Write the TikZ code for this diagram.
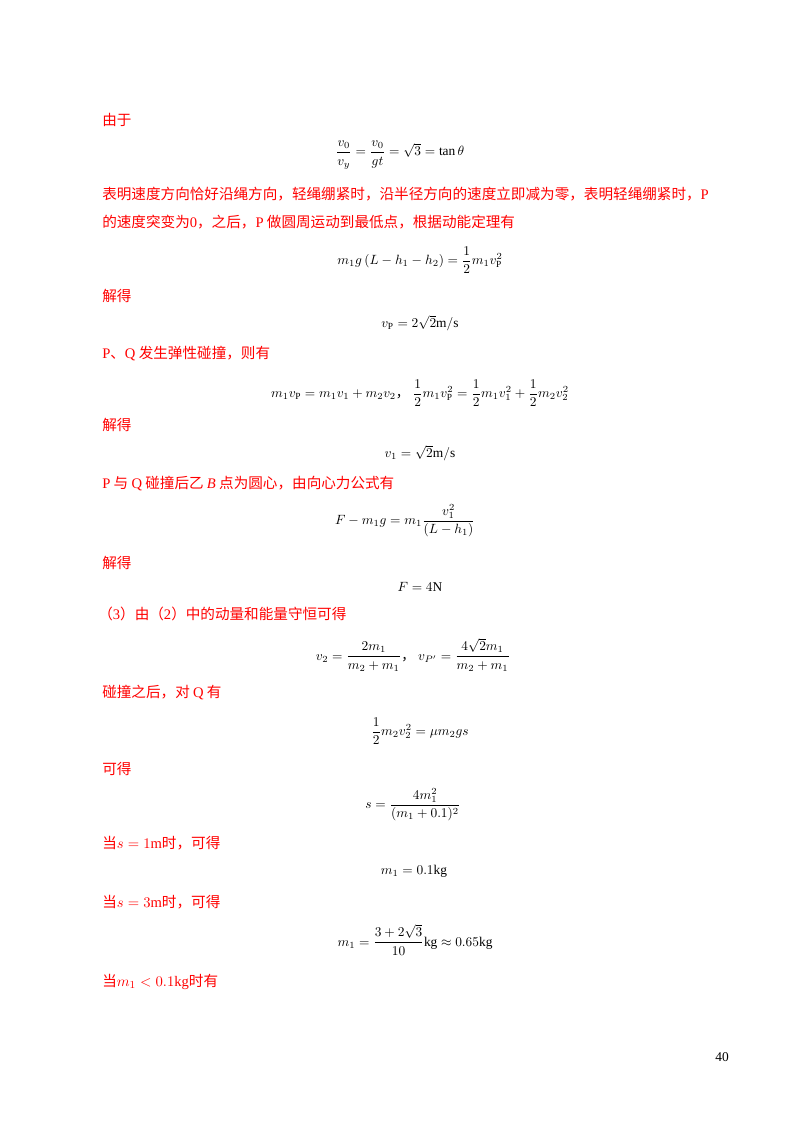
\documentclass[tikz,border=0pt]{standalone}
\usepackage{amsmath}
\usepackage{fontspec}
\setmainfont{Liberation Serif}
\newfontfamily\cjk{Noto Sans CJK SC}
\newcommand{\rl}[1]{{\rmfamily #1}}
\begin{document}
\begin{tikzpicture}[x=0.02625cm,y=-0.02625cm,
  txt/.style={anchor=west,inner sep=0pt,text=red,font=\cjk\fontsize{10.9pt}{13pt}\selectfont},
  eq/.style={inner sep=0pt,font=\fontsize{10pt}{12pt}\selectfont}]
\useasboundingbox (0,0) rectangle (800,1132);
\node[txt] (t1) at (102,120) {由于};
\node[eq] (e1) at (400,155) {$\dfrac{v_0}{v_y}=\dfrac{v_0}{gt}=\sqrt{3}=\tan\theta$};
\node[txt] (t2) at (102,194) {表明速度方向恰好沿绳方向，轻绳绷紧时，沿半径方向的速度立即减为零，表明轻绳绷紧时，\rl{P}};
\node[txt] (t3) at (102,222) {的速度突变为\rl{0}，之后，\rl{P} 做圆周运动到最低点，根据动能定理有};
\node[eq] (e2) at (420,260) {$m_1g\left(L-h_1-h_2\right)=\dfrac{1}{2}m_1v_{\mathrm P}^2$};
\node[txt] (t4) at (102,296) {解得};
\node[eq] (e3) at (420,323) {$v_{\mathrm P}=2\sqrt{2}\mathrm{m/s}$};
\node[txt] (t5) at (102,354) {\rl{P}、\rl{Q} 发生弹性碰撞，则有};
\node[eq] (e4) at (420,393) {$m_1v_{\mathrm P}=m_1v_1+m_2v_2${\cjk ，}\ $\dfrac12m_1v_{\mathrm P}^2=\dfrac12m_1v_1^2+\dfrac12m_2v_2^2$};
\node[txt] (t6) at (102,425) {解得};
\node[eq] (e5) at (420,453) {$v_1=\sqrt{2}\mathrm{m/s}$};
\node[txt] (t7) at (102,484) {\rl{P} 与 \rl{Q} 碰撞后乙 \rl{\textit{B}} 点为圆心，由向心力公式有};
\node[eq] (e6) at (405,521) {$F-m_1g=m_1\dfrac{v_1^2}{\left(L-h_1\right)}$};
\node[txt] (t8) at (102,563) {解得};
\node[eq] (e7) at (420,587) {$F=4\mathrm{N}$};
\node[txt] (t9) at (98,614) {（\rl{3}）由（\rl{2}）中的动量和能量守恒可得};
\node[eq] (e8) at (413,655) {$v_2=\dfrac{2m_1}{m_2+m_1}${\cjk ，}\ $v_{P'}=\dfrac{4\sqrt2m_1}{m_2+m_1}$};
\node[txt] (t10) at (102,693) {碰撞之后，对 \rl{Q} 有};
\node[eq] (e9) at (420,731) {$\dfrac12m_2v_2^2=\mu m_2gs$};
\node[txt] (t11) at (102,769) {可得};
\node[eq] (e10) at (413,805) {$s=\dfrac{4m_1^2}{(m_1+0.1)^2}$};
\node[txt] (t12) at (102,843) {当\rl{$s=1\mathrm{m}$}时，可得};
\node[eq] (e11) at (414,871) {$m_1=0.1\mathrm{kg}$};
\node[txt] (t13) at (102,902) {当\rl{$s=3\mathrm{m}$}时，可得};
\node[eq] (e12) at (415,940) {$m_1=\dfrac{3+2\sqrt3}{10}\mathrm{kg}\approx0.65\mathrm{kg}$};
\node[txt] (t14) at (102,982) {当\rl{$m_1<0.1\mathrm{kg}$}时有};
\node[eq,anchor=east] (pg) at (729,1057) {40};
\end{tikzpicture}
\end{document}
